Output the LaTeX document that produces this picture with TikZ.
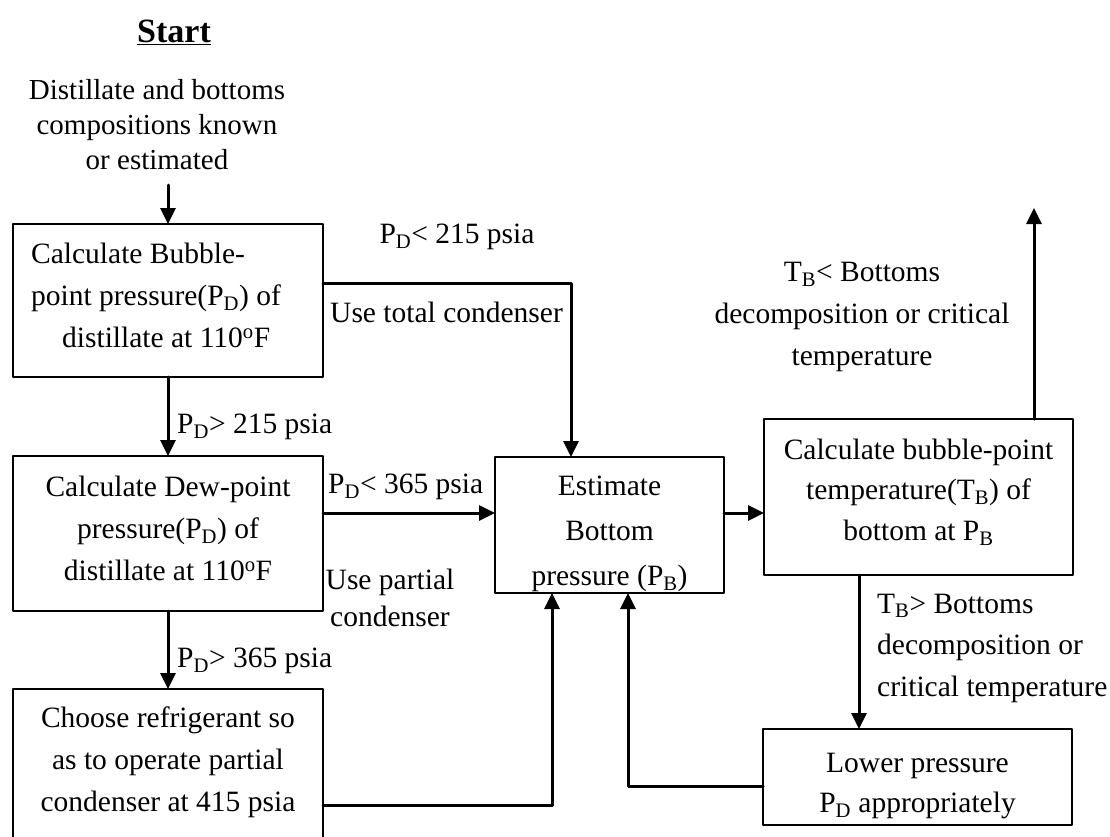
\documentclass[tikz,border=0pt]{standalone}
\usepackage{fontspec}
\setmainfont{Liberation Serif}
\usetikzlibrary{arrows.meta,positioning}
\tikzset{
  procbox/.style={draw, line width=1.8pt, inner sep=0pt, outer sep=0pt, align=center,
    font=\fontsize{29.5}{42}\selectfont},
  lbl/.style={inner sep=0pt, font=\fontsize{29.5}{42}\selectfont},
  flow/.style={line width=3pt, -{Triangle[length=16pt, width=15pt]}},
  every picture/.style={line cap=round, line join=round}
}

\begin{document}
\begin{tikzpicture}[x=1pt, y=-1pt]
    \useasboundingbox (0,0) rectangle (1110,836);

    \node[lbl, font=\fontsize{34}{40}\selectfont\bfseries] (start) at (174,32) {\underline{Start}};
    \node[lbl, align=center, font=\fontsize{29}{35}\selectfont] (intro) at (157,125)
      {Distillate and bottoms\\compositions known\\or estimated};
    \coordinate (inarrow) at (168,185);

    \node[procbox, align=left, minimum width=310pt, minimum height=153pt, text depth=10pt] (bubble) at (168,300.5)
      {Calculate Bubble-\\point pressure(P\textsubscript{D}) of\rule{24pt}{0pt}\\\hspace*{31pt}distillate at 110\textsuperscript{o}F};
    \node[procbox, minimum width=310pt, minimum height=155pt, text depth=10pt] (dew) at (168,533.5)
      {Calculate Dew-point\\pressure(P\textsubscript{D}) of\\distillate at 110\textsuperscript{o}F};
    \node[procbox, anchor=north, minimum width=310pt, inner ysep=18pt, text depth=80pt] (choose) at (168,689)
      {Choose refrigerant so\\as to operate partial\\condenser at 415 psia};
    \node[procbox, minimum width=229pt, minimum height=136pt, font=\fontsize{29.5}{45}\selectfont,
      text height=128pt] (estimate) at (609.5,525)
      {Estimate\\Bottom\\pressure (P\textsubscript{B})};
    \node[procbox, minimum width=309pt, minimum height=156pt, font=\fontsize{29.5}{40.5}\selectfont,
      text depth=15pt] (calcT) at (918.5,497)
      {Calculate bubble-point\\temperature(T\textsubscript{B}) of\\bottom at P\textsubscript{B}};
    \node[procbox, minimum width=309pt, minimum height=96pt, font=\fontsize{29.5}{40}\selectfont,
      text height=78pt] (lower) at (917.5,777)
      {Lower pressure\\P\textsubscript{D} appropriately};
    \coordinate (exitT) at (1034,208);

    % conditions
    \node[lbl] (lt215) at (457,237) {P\textsubscript{D}< 215 psia};
    \node[lbl, anchor=west] (total) at (330,312) {Use total condenser};
    \node[lbl, anchor=west] (gt215) at (177,427) {P\textsubscript{D}> 215 psia};
    \node[lbl, anchor=west] (lt365) at (328,487) {P\textsubscript{D}< 365 psia};
    \node[lbl, align=center, font=\fontsize{29.5}{37}\selectfont] (partial) at (390,597.5)
      {Use partial\\condenser};
    \node[lbl, anchor=west] (gt365) at (177,661) {P\textsubscript{D}> 365 psia};
    \node[lbl, align=center] (tbless) at (862,317)
      {T\textsubscript{B}< Bottoms\\decomposition or critical\\temperature};
    \node[lbl, align=left, anchor=west, font=\fontsize{29.5}{41.5}\selectfont] (tbmore) at (877,648)
      {T\textsubscript{B}> Bottoms\\decomposition or\\critical temperature};

    \draw[flow] (inarrow) -- (bubble.north);
    \draw[flow] (bubble.south) -- (dew.north);
    \draw[flow] (dew.south) -- (choose.north);

    \draw[flow] ([yshift=17.5pt]bubble.east) -| ([xshift=-38.5pt]estimate.north);
    \draw[flow] ([yshift=20.5pt]dew.east) -- ([yshift=20.5pt]dew.east -| estimate.west);
    \draw[flow] ([yshift=-116pt]choose.north east) -| ([xshift=-57.5pt]estimate.south);

    \draw[flow] ([yshift=12pt]estimate.east) -- ([yshift=12pt]estimate.east -| calcT.west);
    \draw[flow] (calcT.north -| exitT) -- (exitT);
    \draw[flow] ([xshift=-59.5pt]calcT.south) -- ([xshift=-59.5pt]calcT.south |- lower.north);
    \draw[flow] ([yshift=-9pt]lower.west) -| ([xshift=18.5pt]estimate.south);
  \end{tikzpicture}
\end{document}
